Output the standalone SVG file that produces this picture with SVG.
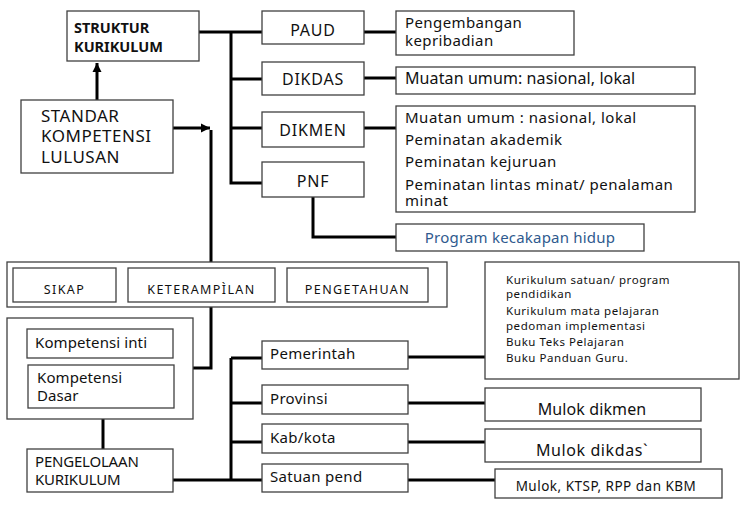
<svg xmlns="http://www.w3.org/2000/svg" width="748" height="510" viewBox="0 0 748 510">
<style>
.bx{fill:#fff;stroke:#404040;stroke-width:1.3}
.ln{fill:none;stroke:#000;stroke-width:3}
text{font-family:"Noto Sans","Open Sans","DejaVu Sans",sans-serif;fill:#111}
.t16{font-size:16px}
.t15{font-size:15px}
.t12{font-size:12.5px;letter-spacing:1.4px}
.t11{font-size:11.5px;letter-spacing:0.55px}
.c{text-anchor:middle}
</style>
<defs>
<marker id="ah" markerUnits="userSpaceOnUse" markerWidth="10" markerHeight="10" refX="9" refY="5" orient="auto">
<path d="M0,0.5 L9,5 L0,9.5 Z" fill="#000"/>
</marker>
</defs>
<rect width="748" height="510" fill="#fff"/>
<g id="connectors">
<path class="ln" d="M199 32 H262 M231 32 V183 H262 M231 79 H262 M231 128 H262"/>
<path class="ln" d="M364 32 H396 M364 78 H396 M364 128 H396 M313 197 V237 H396"/>
<path class="ln" d="M97 100 V63" marker-end="url(#ah)"/>
<path class="ln" d="M173 128 H210" marker-end="url(#ah)"/>
<path class="ln" d="M211 130 V262"/>
<path class="ln" d="M211 307 V368 H193"/>
<path class="ln" d="M103 419 V449"/>
<path class="ln" d="M173 480 H262 M231 358 V480 M231 358 H262 M231 403 H262 M231 442 H262"/>
<path class="ln" d="M408 357 H485 M408 403 H485 M408 442 H485 M408 480 H495"/>
</g>
<g id="struktur">
<rect class="bx" x="67" y="11" width="132" height="50"/>
<text x="74" y="33" style="font-size:14.5px;font-weight:bold">STRUKTUR</text>
<text x="74" y="52" style="font-size:14.5px;font-weight:bold">KURIKULUM</text>
</g>
<g id="standar">
<rect class="bx" x="21" y="100" width="152" height="73"/>
<text x="41" y="122" style="font-size:17px;letter-spacing:0.5px">STANDAR</text>
<text x="41" y="142" style="font-size:17px;letter-spacing:0.5px">KOMPETENSI</text>
<text x="41" y="163" style="font-size:17px;letter-spacing:0.5px">LULUSAN</text>
</g>
<g id="paud"><rect class="bx" x="262" y="11" width="102" height="33"/><text class="t16 c" x="313" y="36" style="letter-spacing:0.8px">PAUD</text></g>
<g id="dikdas"><rect class="bx" x="262" y="62" width="102" height="33"/><text class="t16 c" x="313" y="85" style="letter-spacing:0.8px">DIKDAS</text></g>
<g id="dikmen"><rect class="bx" x="262" y="112" width="102" height="35"/><text class="t16 c" x="313" y="136" style="letter-spacing:0.8px">DIKMEN</text></g>
<g id="pnf"><rect class="bx" x="262" y="162" width="102" height="35"/><text class="t16 c" x="313" y="187" style="letter-spacing:0.8px">PNF</text></g>
<g id="pengembangan"><rect class="bx" x="396" y="11" width="178" height="44"/>
<text class="t15" x="405" y="28" style="letter-spacing:0.4px">Pengembangan</text>
<text class="t15" x="405" y="46" style="letter-spacing:0.4px">kepribadian</text></g>
<g id="muatan"><rect class="bx" x="396" y="67" width="299" height="27"/>
<text class="t16" x="405" y="84" style="letter-spacing:0.1px">Muatan umum: nasional, lokal</text></g>
<g id="dikmen-detail"><rect class="bx" x="396" y="106" width="299" height="106"/>
<text class="t15" x="405" y="123" style="letter-spacing:0.5px">Muatan umum : nasional, lokal</text>
<text class="t15" x="405" y="145" style="letter-spacing:0.5px">Peminatan akademik</text>
<text class="t15" x="405" y="167" style="letter-spacing:0.5px">Peminatan kejuruan</text>
<text class="t15" x="405" y="190" style="letter-spacing:0.5px">Peminatan lintas minat/ penalaman</text>
<text class="t15" x="405" y="206" style="letter-spacing:0.5px">minat</text></g>
<g id="program"><rect class="bx" x="396" y="224" width="248" height="27"/>
<text class="t15 c" x="520" y="243" style="fill:#2F5A8E;letter-spacing:0.2px">Program kecakapan hidup</text></g>
<g id="ksa">
<rect class="bx" x="7" y="262" width="440" height="45"/>
<rect class="bx" x="13" y="268" width="103" height="34"/>
<text class="t12 c" x="64.5" y="294">SIKAP</text>
<rect class="bx" x="128" y="268" width="147" height="34"/>
<text class="t12 c" x="201.5" y="294">KETERAMPÌLAN</text>
<rect class="bx" x="287" y="268" width="141" height="34"/>
<text class="t12 c" x="357.5" y="294">PENGETAHUAN</text>
</g>
<g id="kompetensi">
<rect class="bx" x="7" y="318" width="186" height="101"/>
<rect class="bx" x="27" y="329" width="146" height="29"/>
<text class="t15" x="35" y="348" style="letter-spacing:0.1px">Kompetensi inti</text>
<rect class="bx" x="28" y="365" width="146" height="43"/>
<text class="t15" x="37" y="383" style="letter-spacing:0.1px">Kompetensi</text>
<text class="t15" x="37" y="401" style="letter-spacing:0.1px">Dasar</text>
</g>
<g id="pengelolaan"><rect class="bx" x="27" y="449" width="146" height="43"/>
<text class="t15" x="35" y="467" style="letter-spacing:-0.2px">PENGELOLAAN</text>
<text class="t15" x="35" y="485" style="letter-spacing:-0.2px">KURIKULUM</text></g>
<g id="pemerintah"><rect class="bx" x="262" y="341" width="146" height="28"/><text class="t15" x="270" y="359" style="letter-spacing:0.3px">Pemerintah</text></g>
<g id="provinsi"><rect class="bx" x="262" y="385" width="146" height="29"/><text class="t15" x="270" y="404" style="letter-spacing:0.3px">Provinsi</text></g>
<g id="kabkota"><rect class="bx" x="262" y="424" width="146" height="29"/><text class="t15" x="270" y="443" style="letter-spacing:0.3px">Kab/kota</text></g>
<g id="satuan"><rect class="bx" x="262" y="464" width="146" height="28"/><text class="t15" x="270" y="482" style="letter-spacing:0.3px">Satuan pend</text></g>
<g id="kurikulum-list"><rect class="bx" x="485" y="262" width="254" height="117"/>
<text class="t11" x="506" y="284">Kurikulum satuan/ program</text>
<text class="t11" x="506" y="298">pendidikan</text>
<text class="t11" x="506" y="315">Kurikulum mata pelajaran</text>
<text class="t11" x="506" y="330">pedoman implementasi</text>
<text class="t11" x="506" y="346">Buku Teks Pelajaran</text>
<text class="t11" x="506" y="362">Buku Panduan Guru.</text></g>
<g id="mulok-dikmen"><rect class="bx" x="485" y="388" width="216" height="33"/><text class="t16 c" x="592" y="415" style="letter-spacing:0.1px">Mulok dikmen</text></g>
<g id="mulok-dikdas"><rect class="bx" x="485" y="429" width="216" height="33"/><text class="t16 c" x="592" y="456" style="letter-spacing:0.6px">Mulok dikdas`</text></g>
<g id="mulok-ktsp"><rect class="bx" x="495" y="469" width="227" height="29"/><text class="c" x="606" y="491" style="font-size:13.5px;letter-spacing:0.5px">Mulok, KTSP, RPP dan KBM</text></g>
</svg>
